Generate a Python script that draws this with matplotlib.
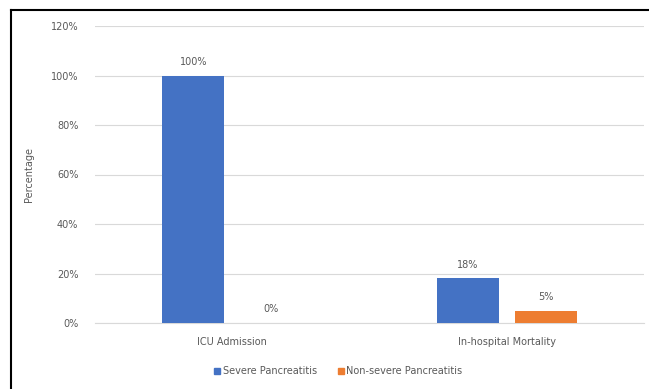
import matplotlib
matplotlib.use("Agg")
import matplotlib.pyplot as plt
from matplotlib.lines import Line2D
import numpy as np

categories = ["ICU Admission", "In-hospital Mortality"]
series_names = ["Severe Pancreatitis", "Non-severe Pancreatitis"]
severe = [100, 18]
non_severe = [0, 5]
yticks = [0, 20, 40, 60, 80, 100, 120]

colors = ["#4472C4", "#ED7D31"]
text_col = "#595959"

fig = plt.figure(figsize=(6.49, 3.89), dpi=100)
ax = fig.add_axes([95/649, 66/389, 549/649, 297/389])

x = np.arange(len(categories))
w = 0.225
off = 0.142
b1 = ax.bar(x - off, severe, w, color=colors[0], label=series_names[0], zorder=3)
b2 = ax.bar(x + off, non_severe, w, color=colors[1], label=series_names[1], zorder=3)

for bars, vals in ((b1, severe), (b2, non_severe)):
    for r, v in zip(bars, vals):
        ax.annotate(f"{v}%", (r.get_x() + r.get_width()/2, v), xytext=(0, 10),
                    textcoords="offset points", ha="center", va="center",
                    fontsize=7, color=text_col)

ax.set_xlim(-0.5, 1.5)
ax.set_ylim(0, 120)
ax.set_yticks(yticks)
ax.set_yticklabels([f"{t}%" for t in yticks])
ax.set_xticks(x)
ax.set_xticklabels(categories)
ax.tick_params(axis="both", length=0, labelsize=7, colors=text_col)
ax.tick_params(axis="y", pad=12)
ax.tick_params(axis="x", pad=10)
ax.grid(axis="y", color="#D9D9D9", linewidth=0.8, zorder=0)
for s in ("top", "right", "left"):
    ax.spines[s].set_visible(False)
ax.spines["bottom"].set_color("#D9D9D9")
ax.set_ylabel("Percentage", fontsize=7, color=text_col, labelpad=12)

handles = [Line2D([], [], marker="s", linestyle="none", markersize=4.5,
                  markerfacecolor=c, markeredgecolor=c) for c in colors]
fig.legend(handles, series_names, loc="center", bbox_to_anchor=(338/649, 1 - 371/389),
           ncol=2, frameon=False, fontsize=7, labelcolor=text_col,
           handletextpad=0.2, columnspacing=2.0, handlelength=0.8)

# outer border (left and top only visible in the reference)
for (xs, ys) in (([11, 11], [0, 379]), ([11, 649], [379, 379])):
    fig.add_artist(Line2D([v/649 for v in xs], [v/389 for v in ys], color="black",
                          linewidth=1.5, transform=fig.transFigure))

fig.savefig("out.png", dpi=100)
